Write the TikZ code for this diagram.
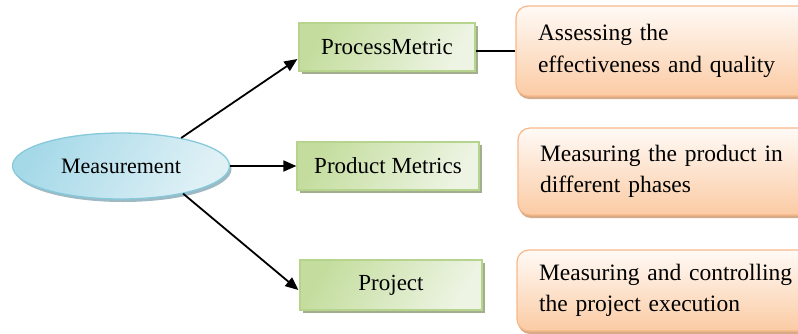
\documentclass[tikz,border=0pt]{standalone}
\usepackage{fontspec}
\setmainfont{Liberation Serif}
\usetikzlibrary{shapes.geometric,arrows.meta,shadows,calc}
\definecolor{elldark}{HTML}{A6D9E8}
\definecolor{elllight}{HTML}{E0F1F6}
\definecolor{ellborder}{HTML}{86C9DB}
\definecolor{ellshadow}{HTML}{9DB9C4}
\definecolor{grdark}{HTML}{C4DD9E}
\definecolor{grlight}{HTML}{EDF4E3}
\definecolor{grborder}{HTML}{B6D48E}
\definecolor{grshadow}{HTML}{A2AE8C}
\definecolor{ordark}{HTML}{FBCBA4}
\definecolor{orlight}{HTML}{FFFAF6}
\definecolor{orborder}{HTML}{F7B889}
\definecolor{orshadow}{HTML}{D7AA88}
\tikzset{
  mainell/.style={ellipse, draw=ellborder, line width=1.3pt,
    shading=axis, left color=elldark, right color=elllight, shading angle=60,
    minimum width=217pt, minimum height=66pt, inner sep=0pt,
    font=\fontsize{22}{24}\selectfont,
    drop shadow={shadow xshift=2pt, shadow yshift=-3pt, fill=ellshadow, opacity=1}},
  metricbox/.style={rectangle, draw=grborder, line width=1.2pt,
    shading=axis, left color=grdark, right color=grlight, shading angle=60,
    minimum width=180pt, minimum height=48pt, inner sep=0pt,
    font=\fontsize{23}{24}\selectfont,
    drop shadow={shadow xshift=3pt, shadow yshift=-3pt, fill=grshadow, opacity=1}},
  descbox/.style={rectangle, rounded corners=12pt, draw=orborder, line width=1.2pt,
    shading=axis, top color=orlight, bottom color=ordark,
    minimum width=300pt, text width=256pt, align=left, inner sep=0pt,
    font=\fontsize{23.5}{31.5}\selectfont,
    drop shadow={shadow xshift=1pt, shadow yshift=-3pt, fill=orshadow, opacity=1}},
  arr/.style={line width=1.8pt, -{Triangle[length=13pt,width=11pt]}},
  link/.style={line width=1.3pt}
}
\begin{document}
\begin{tikzpicture}[x=1pt,y=-1pt]
\useasboundingbox (0,0) rectangle (798,333);
\clip (0,0) rectangle (798,333);
\node[mainell] (m) at (121,166) {Measurement};
\node[metricbox, minimum width=176pt] (pm) at (387,47) {ProcessMetric};
\node[metricbox, minimum width=182pt] (pr) at (388,166) {Product Metrics};
\node[metricbox, minimum width=182pt, minimum height=50pt] (pj) at (391,285) {Project};
\node[descbox, minimum height=90pt] (d1) at (666,51) {Assessing the\\effectiveness and quality};
\node[descbox, minimum height=87pt] (d2) at (668,171.5) {Measuring the product in\\different phases};
\node[descbox, minimum height=81pt] (d3) at (667,290.5) {Measuring and controlling\\the project execution};
\draw[arr] (m.25) -- ($(pm.west)+(-1,12)$);
\draw[arr] (m.east) -- (m.east -| pr.west);
\draw[arr] (m.-24) -- ($(pj.west)+(-1,5)$);
\draw[link] (d1.west -| pm.east) -- (d1.west);
\draw[link] ($(pr.east)+(0,7)$) -- ($(pr.east)+(0,7)$ -| d2.west);
\draw[link] ($(pj.east)+(0,6)$) -- ($(pj.east)+(0,6)$ -| d3.west);
\end{tikzpicture}
\end{document}
